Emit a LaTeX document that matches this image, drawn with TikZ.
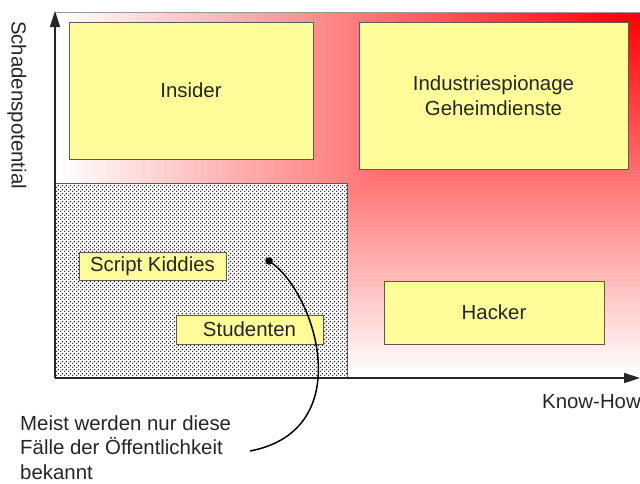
\documentclass[tikz,border=0pt]{standalone}
\usepackage{fontspec}
\setmainfont{Liberation Sans}
\usetikzlibrary{arrows.meta,patterns}

\definecolor{boxyellow}{RGB}{255,253,153}
\definecolor{rimgray}{RGB}{90,90,90}
\definecolor{inkgray}{RGB}{38,38,38}

\pgfdeclarepatternformonly{finedots}{\pgfpointorigin}{\pgfqpoint{4pt}{4pt}}{\pgfqpoint{4pt}{4pt}}%
{
  \pgfpathcircle{\pgfqpoint{1pt}{1pt}}{.85pt}
  \pgfpathcircle{\pgfqpoint{3pt}{3pt}}{.85pt}
  \pgfusepath{fill}
}

\tikzset{
  actor/.style={draw=rimgray,fill=boxyellow,line width=1pt,inner sep=0pt,align=center,text=inkgray},
  axis/.style={inkgray,line width=1.6pt,-{Triangle[length=16pt,width=10pt]}},
}

\begin{document}
\begin{tikzpicture}[x=1pt,y=-1pt,font=\fontsize{20.4}{24.5}\selectfont]
\useasboundingbox (0,0) rectangle (640,483);
% shading: white at the axes, red in the upper right corner
\foreach \i in {0,...,79} {
  \pgfmathsetmacro\c{\i*100/79}
  \fill[red!\c!white] ({55+\i/80*583},{378-\i/80*366}) rectangle (640,12);
}
\draw[gray!80,line width=.8pt] (55,12) -- (640,12);

\node[draw=rimgray,line width=1pt,preaction={fill=white},pattern=finedots,
  minimum width=292,minimum height=195,inner sep=0pt] (known) at (201,280.5) {};

\node[actor,minimum width=244,minimum height=137] (insider) at (191,90.5) {Insider};
\node[actor,minimum width=269,minimum height=147] (spies) at (493.5,95.5)
  {Industriespionage\\Geheimdienste};
\node[actor,minimum width=147,minimum height=28] (kiddies) at (152.5,266) {Script Kiddies};
\node[actor,minimum width=147,minimum height=29] (students) at (249.5,329.5) {Studenten};
\node[actor,minimum width=220,minimum height=63] (hacker) at (494,312.5) {Hacker};

\coordinate (origin) at (55,378);
\coordinate (ytop) at (55,11);
\coordinate (xend) at (640,378);
\draw[axis] (origin) -- (ytop);
\draw[axis] (origin) -- (xend);
\node[rotate=-90,text=inkgray] (ylabel) at (17,105) {Schadenspotential};
\node[anchor=base west,text=inkgray,inner sep=0pt] (xlabel) at (542,408) {Know-How};

\node[circle,fill=black,inner sep=0pt,minimum size=7.5] (spot) at (269,261) {};
\node[anchor=base west,align=left,inner sep=0pt,text=inkgray] (note) at (20,479)
  {Meist werden nur diese\\Fälle der Öffentlichkeit\\bekannt};
\coordinate (tip) at (250,451);
\draw[black,line width=1.5pt] (spot.center) .. controls (315,290) and (360,430) .. (tip);
\end{tikzpicture}
\end{document}
